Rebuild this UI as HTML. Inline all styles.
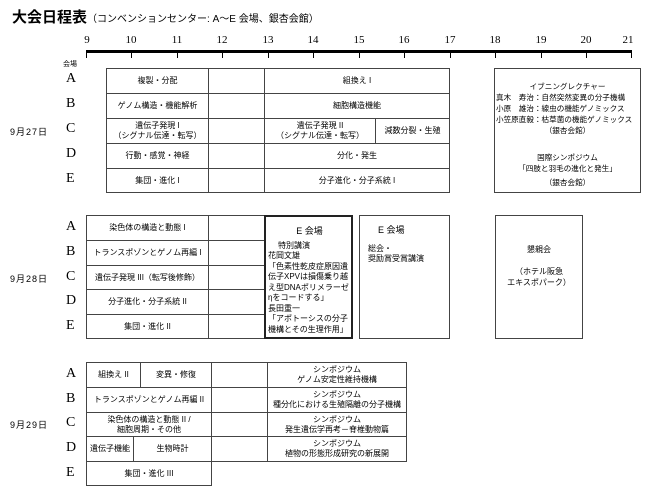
<!DOCTYPE html>
<html><head><meta charset="utf-8"><style>
body{margin:0;width:648px;height:488px;background:#fff;position:relative;overflow:hidden;font-family:"Liberation Sans","Noto Sans CJK JP",sans-serif;color:#000}
.a{position:absolute}
.b{position:absolute;border:1px solid #444;box-sizing:border-box;display:flex;align-items:center;justify-content:center;text-align:center;font-size:8px;line-height:10px;white-space:nowrap}
.t{position:absolute;font-family:"Liberation Serif","Noto Serif CJK SC",serif;font-size:11px;transform:translateX(-50%);top:34px}
.tk{position:absolute;top:51px;width:1px;height:7px;background:#000}
.L{position:absolute;left:66px;font-family:"Liberation Serif",serif;font-size:14px}
.d{position:absolute;left:10px;font-size:9px;letter-spacing:1px}
</style></head><body>
<div class="a" style="left:12px;top:6px;font-size:15px;font-weight:bold">大会日程表<span style="font-size:10px;font-weight:normal">（コンベンションセンター: A〜E 会場、銀杏会館）</span></div>
<div class="a" style="left:86px;top:50px;width:546px;height:3px;background:#000"></div>
<div class="tk" style="left:86px"></div><div class="tk" style="left:131px"></div><div class="tk" style="left:177px"></div><div class="tk" style="left:222px"></div><div class="tk" style="left:268px"></div><div class="tk" style="left:313px"></div><div class="tk" style="left:359px"></div><div class="tk" style="left:404px"></div><div class="tk" style="left:450px"></div><div class="tk" style="left:495px"></div><div class="tk" style="left:541px"></div><div class="tk" style="left:586px"></div><div class="tk" style="left:631px"></div>
<div class="t" style="left:87px">9</div><div class="t" style="left:131px">10</div><div class="t" style="left:177px">11</div><div class="t" style="left:222px">12</div><div class="t" style="left:268px">13</div><div class="t" style="left:313px">14</div><div class="t" style="left:359px">15</div><div class="t" style="left:404px">16</div><div class="t" style="left:450px">17</div><div class="t" style="left:495px">18</div><div class="t" style="left:541px">19</div><div class="t" style="left:586px">20</div><div class="t" style="left:628px">21</div>
<div class="a" style="left:63px;top:59px;font-size:7px">会場</div>

<div class="L" style="top:71px">A</div><div class="L" style="top:96px">B</div><div class="L" style="top:121px">C</div><div class="L" style="top:146px">D</div><div class="L" style="top:171px">E</div>
<div class="d" style="top:125px">9月27日</div>
<div class="b" style="left:106px;top:68px;width:103px;height:26px">複製・分配</div>
<div class="b" style="left:106px;top:93px;width:103px;height:26px">ゲノム構造・機能解析</div>
<div class="b" style="left:106px;top:118px;width:103px;height:26px">遺伝子発現 I<br>（シグナル伝達・転写）</div>
<div class="b" style="left:106px;top:143px;width:103px;height:26px">行動・感覚・神経</div>
<div class="b" style="left:106px;top:168px;width:103px;height:25px">集団・進化 I</div>
<div class="b" style="left:208px;top:68px;width:57px;height:26px"></div>
<div class="b" style="left:208px;top:93px;width:57px;height:26px"></div>
<div class="b" style="left:208px;top:118px;width:57px;height:26px"></div>
<div class="b" style="left:208px;top:143px;width:57px;height:26px"></div>
<div class="b" style="left:208px;top:168px;width:57px;height:25px"></div>
<div class="b" style="left:264px;top:68px;width:186px;height:26px">組換え I</div>
<div class="b" style="left:264px;top:93px;width:186px;height:26px">細胞構造機能</div>
<div class="b" style="left:264px;top:118px;width:112px;height:26px">遺伝子発現 II<br>（シグナル伝達・転写）</div>
<div class="b" style="left:375px;top:118px;width:75px;height:26px">減数分裂・生殖</div>
<div class="b" style="left:264px;top:143px;width:186px;height:26px">分化・発生</div>
<div class="b" style="left:264px;top:168px;width:186px;height:25px">分子進化・分子系統 I</div>
<div class="b" style="left:494px;top:68px;width:147px;height:125px;display:block;line-height:11px;font-size:7.6px;padding-top:12px;overflow:hidden">イブニングレクチャー<br><div style="text-align:left;padding-left:1px">真木　寿治：自然突然変異の分子機構<br>小原　雄治：線虫の機能ゲノミックス<br>小笠原直毅：枯草菌の機能ゲノミックス</div>（銀杏会館）<br><div style="height:16px"></div>国際シンポジウム<br>「四肢と羽毛の進化と発生」<br><div style="height:3px"></div>（銀杏会館）</div>

<div class="L" style="top:219px">A</div><div class="L" style="top:244px">B</div><div class="L" style="top:269px">C</div><div class="L" style="top:293px">D</div><div class="L" style="top:318px">E</div>
<div class="d" style="top:272px">9月28日</div>
<div class="b" style="left:86px;top:215px;width:123px;height:26px">染色体の構造と動態 I</div>
<div class="b" style="left:86px;top:240px;width:123px;height:26px">トランスポゾンとゲノム再編 I</div>
<div class="b" style="left:86px;top:265px;width:123px;height:25px">遺伝子発現 III（転写後修飾）</div>
<div class="b" style="left:86px;top:289px;width:123px;height:26px">分子進化・分子系統 II</div>
<div class="b" style="left:86px;top:314px;width:123px;height:25px">集団・進化 II</div>
<div class="b" style="left:208px;top:215px;width:57px;height:26px"></div>
<div class="b" style="left:208px;top:240px;width:57px;height:26px"></div>
<div class="b" style="left:208px;top:265px;width:57px;height:25px"></div>
<div class="b" style="left:208px;top:289px;width:57px;height:26px"></div>
<div class="b" style="left:208px;top:314px;width:57px;height:25px"></div>
<div class="b" style="left:264px;top:215px;width:89px;height:124px;border:2px solid #222;display:block;text-align:left;line-height:10.5px;white-space:normal;padding:9px 0 0 2px">
<div style="text-align:center;font-size:9px">E 会場</div><div style="height:4px"></div>
<div style="padding-left:10px">特別講演</div>花岡文雄<br>「色素性乾皮症原因遺伝子XPVは損傷乗り越え型DNAポリメラーゼηをコードする」<br>長田重一<br>「アポトーシスの分子機構とその生理作用」</div>
<div class="b" style="left:359px;top:215px;width:91px;height:124px;display:block;text-align:left;padding:9px 0 0 8px;line-height:10.5px"><div style="font-size:9px;padding-left:10px">E 会場</div><div style="height:8px"></div>総会・<br>奨励賞受賞講演</div>
<div class="b" style="left:495px;top:215px;width:88px;height:124px;display:block;padding-top:28px;line-height:11px">懇親会<br><br>（ホテル阪急<br>エキスポパーク）</div>

<div class="L" style="top:366px">A</div><div class="L" style="top:391px">B</div><div class="L" style="top:415px">C</div><div class="L" style="top:440px">D</div><div class="L" style="top:465px">E</div>
<div class="d" style="top:418px">9月29日</div>
<div class="b" style="left:86px;top:362px;width:55px;height:26px">組換え II</div>
<div class="b" style="left:140px;top:362px;width:72px;height:26px">変異・修復</div>
<div class="b" style="left:86px;top:387px;width:126px;height:26px">トランスポゾンとゲノム再編 II</div>
<div class="b" style="left:86px;top:412px;width:126px;height:25px">染色体の構造と動態 II /<br>細胞周期・その他</div>
<div class="b" style="left:86px;top:436px;width:48px;height:26px">遺伝子機能</div>
<div class="b" style="left:133px;top:436px;width:79px;height:26px">生物時計</div>
<div class="b" style="left:86px;top:461px;width:126px;height:25px">集団・進化 III</div>
<div class="b" style="left:211px;top:362px;width:57px;height:26px"></div>
<div class="b" style="left:211px;top:387px;width:57px;height:26px"></div>
<div class="b" style="left:211px;top:412px;width:57px;height:25px"></div>
<div class="b" style="left:211px;top:436px;width:57px;height:26px"></div>
<div class="b" style="left:267px;top:362px;width:140px;height:26px">シンポジウム<br>ゲノム安定性維持機構</div>
<div class="b" style="left:267px;top:387px;width:140px;height:26px">シンポジウム<br>種分化における生殖隔離の分子機構</div>
<div class="b" style="left:267px;top:412px;width:140px;height:25px">シンポジウム<br>発生遺伝学再考－脊椎動物篇</div>
<div class="b" style="left:267px;top:436px;width:140px;height:26px">シンポジウム<br>植物の形態形成研究の新展開</div>
</body></html>
